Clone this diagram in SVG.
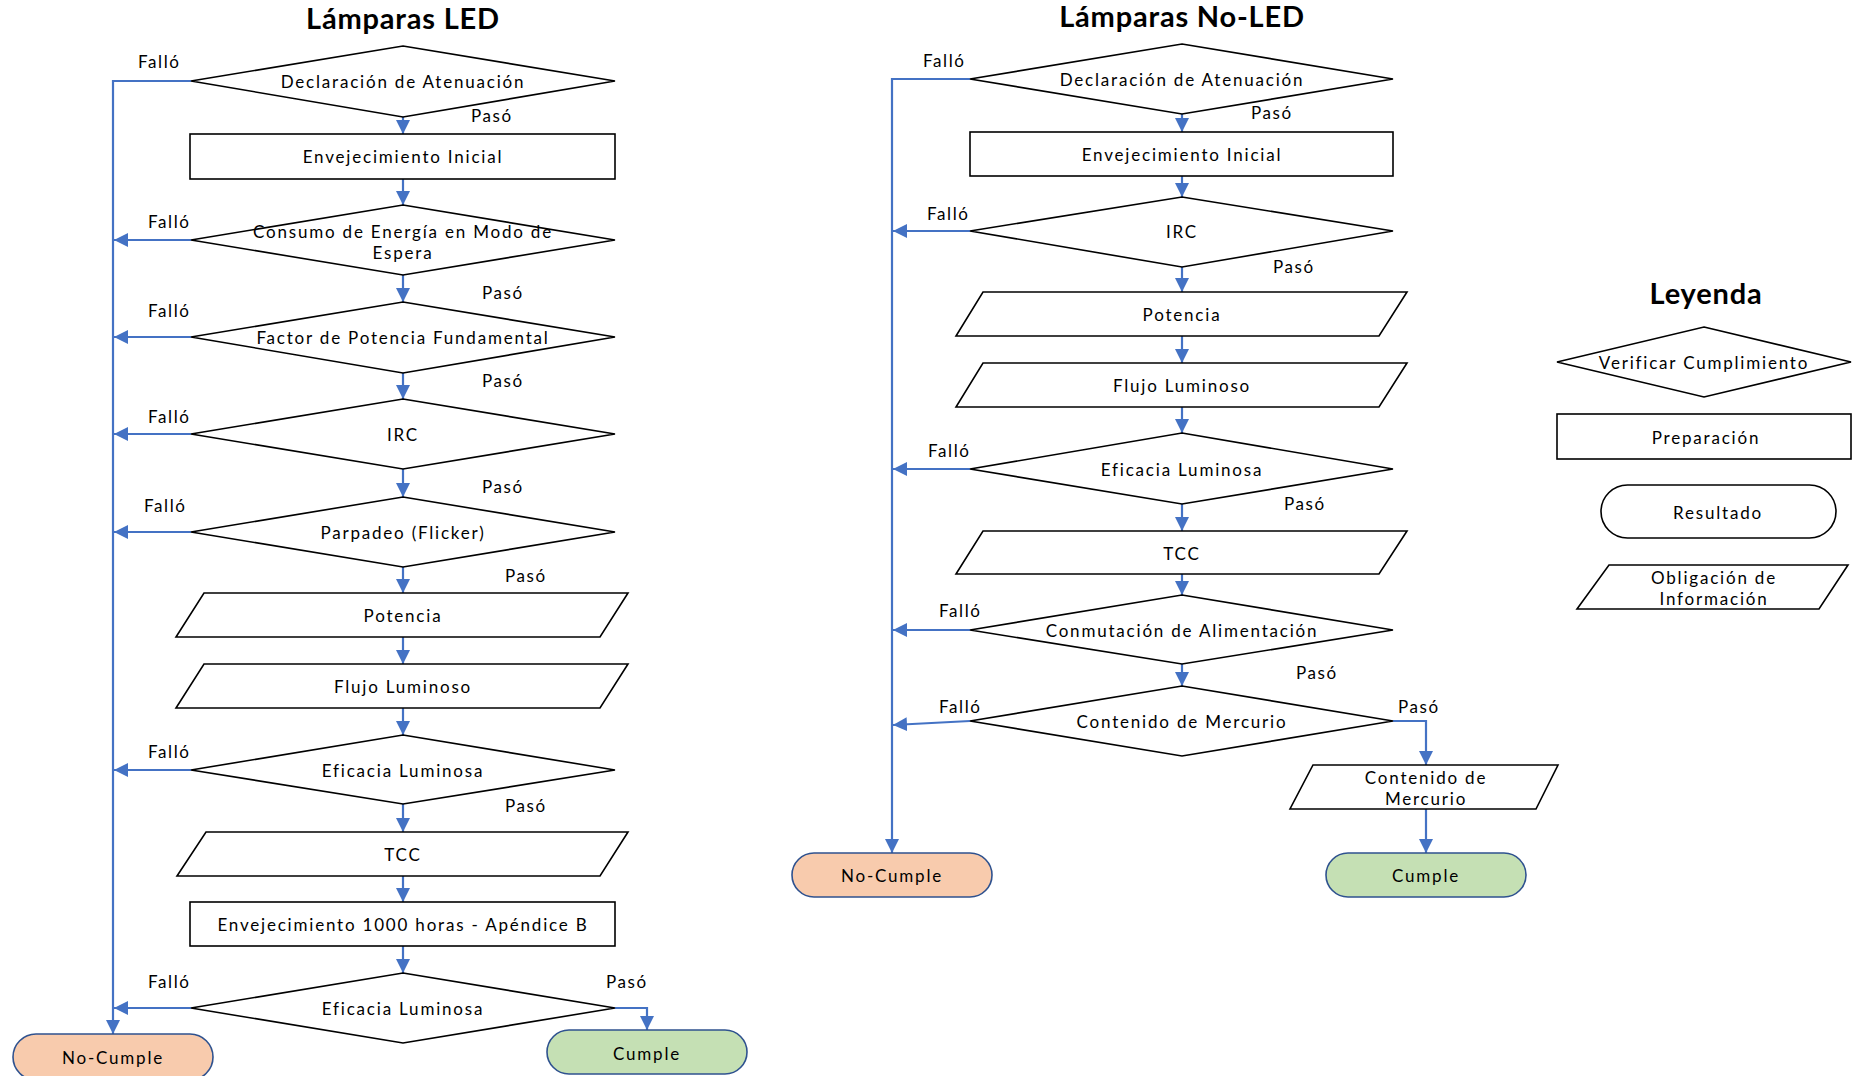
<svg xmlns="http://www.w3.org/2000/svg" width="1852" height="1076" viewBox="0 0 1852 1076">
<defs>
<marker id="ah" markerUnits="userSpaceOnUse" markerWidth="15" markerHeight="15" refX="14" refY="7" orient="auto">
<path d="M0,0 L14,7 L0,14 z" fill="#4472C4"/>
</marker>
<style>
.s{fill:#fff;stroke:#000;stroke-width:1.6}
.t{font-family:Lato,"Liberation Sans",sans-serif;font-size:17px;fill:#000;text-anchor:middle;dominant-baseline:central;letter-spacing:1.8px}
.l{font-family:Lato,"Liberation Sans",sans-serif;font-size:17px;fill:#000;letter-spacing:1.6px}
.h{font-family:Lato,"Liberation Sans",sans-serif;font-size:29px;font-weight:bold;fill:#000;text-anchor:middle;letter-spacing:0.8px}
.c{fill:none;stroke:#4472C4;stroke-width:2.2}
.ca{fill:none;stroke:#4472C4;stroke-width:2.2;marker-end:url(#ah)}
.nc{fill:#F8CBAD;stroke:#2F528F;stroke-width:1.6}
.ok{fill:#C5E0B4;stroke:#2F528F;stroke-width:1.6}
</style>
</defs>
<rect width="1852" height="1076" fill="#fff"/>

<text class="h" x="403" y="29">Lámparas LED</text>
<text class="h" x="1182" y="27">Lámparas No-LED</text>
<text class="h" x="1706" y="304" font-size="28">Leyenda</text>

<g id="connectors">
<!-- LED -->
<polyline class="ca" points="191,81 113,81 113,1034"/>
<line class="ca" x1="403" y1="117" x2="403" y2="134"/>
<line class="ca" x1="403" y1="179" x2="403" y2="205"/>
<line class="ca" x1="403" y1="275" x2="403" y2="302"/>
<line class="ca" x1="403" y1="373" x2="403" y2="399"/>
<line class="ca" x1="403" y1="469" x2="403" y2="497"/>
<line class="ca" x1="403" y1="567" x2="403" y2="593"/>
<line class="ca" x1="403" y1="637" x2="403" y2="664"/>
<line class="ca" x1="403" y1="708" x2="403" y2="735"/>
<line class="ca" x1="403" y1="804" x2="403" y2="832"/>
<line class="ca" x1="403" y1="876" x2="403" y2="902"/>
<line class="ca" x1="403" y1="946" x2="403" y2="973"/>
<line class="ca" x1="191" y1="240" x2="114" y2="240"/>
<line class="ca" x1="191" y1="337" x2="114" y2="337"/>
<line class="ca" x1="191" y1="434" x2="114" y2="434"/>
<line class="ca" x1="191" y1="532" x2="114" y2="532"/>
<line class="ca" x1="191" y1="770" x2="114" y2="770"/>
<line class="ca" x1="191" y1="1008" x2="114" y2="1008"/>
<polyline class="ca" points="615,1008 647,1008 647,1030"/>
<!-- No-LED -->
<polyline class="ca" points="970,79 892,79 892,853"/>
<line class="ca" x1="1182" y1="114" x2="1182" y2="132"/>
<line class="ca" x1="1182" y1="176" x2="1182" y2="197"/>
<line class="ca" x1="1182" y1="267" x2="1182" y2="292"/>
<line class="ca" x1="1182" y1="336" x2="1182" y2="363"/>
<line class="ca" x1="1182" y1="407" x2="1182" y2="433"/>
<line class="ca" x1="1182" y1="504" x2="1182" y2="531"/>
<line class="ca" x1="1182" y1="574" x2="1182" y2="595"/>
<line class="ca" x1="1182" y1="664" x2="1182" y2="686"/>
<line class="ca" x1="970" y1="231" x2="893" y2="231"/>
<line class="ca" x1="970" y1="469" x2="893" y2="469"/>
<line class="ca" x1="970" y1="630" x2="893" y2="630"/>
<line class="ca" x1="970" y1="721" x2="893" y2="725"/>
<polyline class="ca" points="1393,721 1426,721 1426,765"/>
<line class="ca" x1="1426" y1="809" x2="1426" y2="853"/>
</g>

<g id="labels">
<text class="l" x="138" y="68">Falló</text>
<text class="l" x="471" y="122">Pasó</text>
<text class="l" x="148" y="228">Falló</text>
<text class="l" x="482" y="299">Pasó</text>
<text class="l" x="148" y="317">Falló</text>
<text class="l" x="482" y="387">Pasó</text>
<text class="l" x="148" y="423">Falló</text>
<text class="l" x="482" y="493">Pasó</text>
<text class="l" x="144" y="512">Falló</text>
<text class="l" x="505" y="582">Pasó</text>
<text class="l" x="148" y="758">Falló</text>
<text class="l" x="505" y="812">Pasó</text>
<text class="l" x="148" y="988">Falló</text>
<text class="l" x="606" y="988">Pasó</text>
<text class="l" x="923" y="67">Falló</text>
<text class="l" x="1251" y="119">Pasó</text>
<text class="l" x="927" y="220">Falló</text>
<text class="l" x="1273" y="273">Pasó</text>
<text class="l" x="928" y="457">Falló</text>
<text class="l" x="1284" y="510">Pasó</text>
<text class="l" x="939" y="617">Falló</text>
<text class="l" x="1296" y="679">Pasó</text>
<text class="l" x="939" y="713">Falló</text>
<text class="l" x="1398" y="713">Pasó</text>
</g>

<!-- LED nodes -->
<g id="led-declaracion"><polygon class="s" points="403,46 615,81 403,117 191,81"/><text class="t" x="403" y="81">Declaración de Atenuación</text></g>
<g id="led-envejecimiento"><rect class="s" x="190" y="134" width="425" height="45"/><text class="t" x="403" y="156">Envejecimiento Inicial</text></g>
<g id="led-consumo"><polygon class="s" points="403,205 615,240 403,275 191,240"/><text class="t" x="403" y="231">Consumo de Energía en Modo de</text><text class="t" x="403" y="252">Espera</text></g>
<g id="led-factor"><polygon class="s" points="403,302 615,337 403,373 191,337"/><text class="t" x="403" y="337">Factor de Potencia Fundamental</text></g>
<g id="led-irc"><polygon class="s" points="403,399 615,434 403,469 191,434"/><text class="t" x="403" y="434">IRC</text></g>
<g id="led-parpadeo"><polygon class="s" points="403,497 615,532 403,567 191,532"/><text class="t" x="403" y="532">Parpadeo (Flicker)</text></g>
<g id="led-potencia"><polygon class="s" points="204,593 628,593 600,637 176,637"/><text class="t" x="403" y="615">Potencia</text></g>
<g id="led-flujo"><polygon class="s" points="204,664 628,664 600,708 176,708"/><text class="t" x="403" y="686">Flujo Luminoso</text></g>
<g id="led-eficacia"><polygon class="s" points="403,735 615,770 403,804 191,770"/><text class="t" x="403" y="770">Eficacia Luminosa</text></g>
<g id="led-tcc"><polygon class="s" points="206,832 628,832 600,876 177,876"/><text class="t" x="403" y="854">TCC</text></g>
<g id="led-envejecimiento1000"><rect class="s" x="190" y="902" width="425" height="44"/><text class="t" x="403" y="924">Envejecimiento 1000 horas - Apéndice B</text></g>
<g id="led-eficacia2"><polygon class="s" points="403,973 615,1008 403,1043 191,1008"/><text class="t" x="403" y="1008">Eficacia Luminosa</text></g>
<g id="led-nocumple"><rect class="nc" x="13" y="1034" width="200" height="46" rx="23"/><text class="t" x="113" y="1057">No-Cumple</text></g>
<g id="led-cumple"><rect class="ok" x="547" y="1030" width="200" height="44" rx="22"/><text class="t" x="647" y="1053">Cumple</text></g>

<!-- No-LED nodes -->
<g id="nl-declaracion"><polygon class="s" points="1182,44 1393,79 1182,114 970,79"/><text class="t" x="1182" y="79">Declaración de Atenuación</text></g>
<g id="nl-envejecimiento"><rect class="s" x="970" y="132" width="423" height="44"/><text class="t" x="1182" y="154">Envejecimiento Inicial</text></g>
<g id="nl-irc"><polygon class="s" points="1182,197 1393,231 1182,267 970,231"/><text class="t" x="1182" y="231">IRC</text></g>
<g id="nl-potencia"><polygon class="s" points="983,292 1407,292 1379,336 956,336"/><text class="t" x="1182" y="314">Potencia</text></g>
<g id="nl-flujo"><polygon class="s" points="983,363 1407,363 1379,407 956,407"/><text class="t" x="1182" y="385">Flujo Luminoso</text></g>
<g id="nl-eficacia"><polygon class="s" points="1182,433 1393,469 1182,504 970,469"/><text class="t" x="1182" y="469">Eficacia Luminosa</text></g>
<g id="nl-tcc"><polygon class="s" points="983,531 1407,531 1379,574 956,574"/><text class="t" x="1182" y="553">TCC</text></g>
<g id="nl-conmutacion"><polygon class="s" points="1182,595 1393,630 1182,664 970,630"/><text class="t" x="1182" y="630">Conmutación de Alimentación</text></g>
<g id="nl-contenido"><polygon class="s" points="1182,686 1393,721 1182,756 970,721"/><text class="t" x="1182" y="721">Contenido de Mercurio</text></g>
<g id="nl-contenido-info"><polygon class="s" points="1313,765 1558,765 1536,809 1290,809"/><text class="t" x="1426" y="777">Contenido de</text><text class="t" x="1426" y="798">Mercurio</text></g>
<g id="nl-nocumple"><rect class="nc" x="792" y="853" width="200" height="44" rx="22"/><text class="t" x="892" y="875">No-Cumple</text></g>
<g id="nl-cumple"><rect class="ok" x="1326" y="853" width="200" height="44" rx="22"/><text class="t" x="1426" y="875">Cumple</text></g>

<!-- Legend -->
<g id="leg-verificar"><polygon class="s" points="1704,327 1851,362 1704,397 1557,362"/><text class="t" x="1704" y="362">Verificar Cumplimiento</text></g>
<g id="leg-preparacion"><rect class="s" x="1557" y="414" width="294" height="45"/><text class="t" x="1706" y="437">Preparación</text></g>
<g id="leg-resultado"><rect class="s" x="1601" y="485" width="235" height="53" rx="26.5"/><text class="t" x="1718" y="512">Resultado</text></g>
<g id="leg-obligacion"><polygon class="s" points="1609,565 1848,565 1819,609 1577,609"/><text class="t" x="1714" y="577">Obligación de</text><text class="t" x="1714" y="598">Información</text></g>
</svg>
